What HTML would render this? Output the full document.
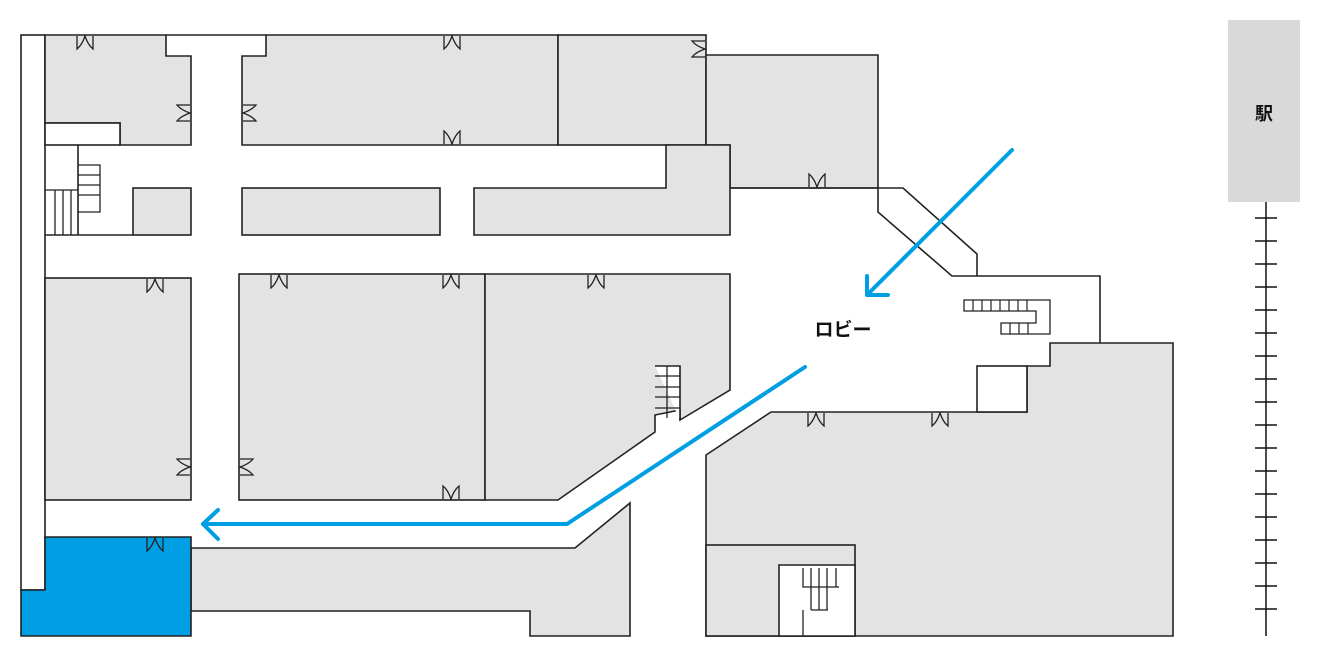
<!DOCTYPE html>
<html><head><meta charset="utf-8"><style>
html,body{margin:0;padding:0;background:#fff;}
svg{display:block}
</style></head><body>
<svg width="1320" height="658" viewBox="0 0 1320 658" xmlns="http://www.w3.org/2000/svg">
<defs>
<g id="dd"><path d="M-8,0 V13 Q-3,9 0,0 Q3,9 8,13 V0" fill="none" stroke="#222" stroke-width="1.3"/></g>
</defs>
<g stroke="#222" stroke-width="1.6" fill="#e3e3e3" stroke-linejoin="miter">
<rect x="21" y="35" width="24" height="555" fill="#fff"/>
<path d="M45,35 H166 V56 H191 V145 H120 V123 H45 Z"/>
<rect x="45" y="123" width="75" height="22" fill="#fff"/>
<path d="M166,35 H266" fill="none"/>
<path d="M266,35 H558 V145 H242 V56 H266 Z"/>
<rect x="558" y="35" width="148" height="110"/>
<path d="M706,55 H878 V188 H730 V145 H706 Z"/>
<path d="M666,145 H730 V235 H474 V188 H666 Z"/>
<rect x="242" y="188" width="198" height="47"/>
<rect x="133" y="188" width="58" height="47"/>
<path d="M78,145 V235" fill="none"/>
<path d="M45,235 H133" fill="none"/>
<path d="M78,165 H100 V212 H78 M78,175 H100 M78,185 H100 M78,195 H100 M45,190 H78 M55,190 V235 M63,190 V235 M71,190 V235" fill="none" stroke-width="1.3"/>
<rect x="45" y="278" width="146" height="222"/>
<rect x="239" y="274" width="246" height="226"/>
<path d="M485,274 H730 V390 L680,420 V410 L655,415 V432 L558,500 H485 Z"/>
<path d="M655,366 H680 V418 L680,420" fill="#fff"/>
<path d="M655,376 H680 M655,387 H680 M655,397 H680 M655,408 H680 M667,366 V418" fill="none" stroke-width="1.3"/>
<path d="M191,548 H575 L630,503 V636 H530 V611 H191 Z"/>
<path d="M45,537 H191 V636 H21 V590 H45 Z" fill="#009fe3" stroke="#222"/>
<path d="M706,455 L771,412 H1027 V366 H1050 V343 H1173 V636 H706 Z"/>
<rect x="977" y="366" width="50" height="46" fill="#fff"/>
<rect x="706" y="545" width="149" height="91"/>
<path d="M779,636 V565 H855 V636 Z" fill="#fff"/>
<path d="M803,568 V587 H839 M811,568 V610 M819,568 V610 M827,568 V610 M836,568 V587 M811,610 H828 M803,610 V636" fill="none" stroke-width="1.3"/>
<path d="M878,188 V212 L952,276 H977 M730,188 H903 L977,254 V276 H1100 V343" fill="none"/>
<path d="M964,300 H1050 V334 H1001 V323 H1036 V311 H964 Z" fill="#fff" stroke-width="1.3"/>
<path d="M973,300 V311 M982,300 V311 M991,300 V311 M1000,300 V311 M1009,300 V311 M1018,300 V311 M1027,300 V311 M1010,323 V334 M1019,323 V334 M1028,323 V334" fill="none" stroke-width="1.2"/>
</g>
<g>
<use href="#dd" transform="translate(85,36)"/>
<use href="#dd" transform="translate(452,36)"/>
<use href="#dd" transform="translate(452,144) rotate(180)"/>
<use href="#dd" transform="translate(190,113) rotate(90)"/>
<use href="#dd" transform="translate(243,113) rotate(-90)"/>
<use href="#dd" transform="translate(705,49) rotate(90)"/>
<use href="#dd" transform="translate(817,187) rotate(180)"/>
<use href="#dd" transform="translate(155,279)"/>
<use href="#dd" transform="translate(279,275)"/>
<use href="#dd" transform="translate(451,275)"/>
<use href="#dd" transform="translate(596,275)"/>
<use href="#dd" transform="translate(190,467) rotate(90)"/>
<use href="#dd" transform="translate(240,467) rotate(-90)"/>
<use href="#dd" transform="translate(451,499) rotate(180)"/>
<use href="#dd" transform="translate(155,538)"/>
<use href="#dd" transform="translate(816,413)"/>
<use href="#dd" transform="translate(940,413)"/>
</g>
<g stroke="#009fe3" stroke-width="4" fill="none" stroke-linecap="round" stroke-linejoin="round">
<path d="M1012,150 L868,294"/>
<path d="M867,276 V295 H888"/>
<path d="M805,367 L567,524 H203"/>
<path d="M218,510 L203,524 L218,539"/>
</g>
<text x="843" y="336" font-family="'Liberation Sans','Noto Sans CJK JP',sans-serif" font-size="19" font-weight="bold" text-anchor="middle" fill="#111">ロビー</text>
<rect x="1228" y="20" width="72" height="182" fill="#d9d9d9"/>
<text x="1264" y="120" font-family="'Liberation Sans','Noto Sans CJK JP',sans-serif" font-size="18" font-weight="bold" text-anchor="middle" fill="#111">駅</text>
<g stroke="#111" stroke-width="1.5">
<line x1="1266" y1="202" x2="1266" y2="636"/>
<line x1="1255" y1="218" x2="1277" y2="218"/><line x1="1255" y1="241" x2="1277" y2="241"/><line x1="1255" y1="264" x2="1277" y2="264"/><line x1="1255" y1="287" x2="1277" y2="287"/><line x1="1255" y1="310" x2="1277" y2="310"/><line x1="1255" y1="333" x2="1277" y2="333"/><line x1="1255" y1="356" x2="1277" y2="356"/><line x1="1255" y1="379" x2="1277" y2="379"/><line x1="1255" y1="402" x2="1277" y2="402"/><line x1="1255" y1="425" x2="1277" y2="425"/><line x1="1255" y1="448" x2="1277" y2="448"/><line x1="1255" y1="471" x2="1277" y2="471"/><line x1="1255" y1="494" x2="1277" y2="494"/><line x1="1255" y1="517" x2="1277" y2="517"/><line x1="1255" y1="540" x2="1277" y2="540"/><line x1="1255" y1="563" x2="1277" y2="563"/><line x1="1255" y1="586" x2="1277" y2="586"/><line x1="1255" y1="609" x2="1277" y2="609"/>
</g>
</svg>
</body></html>
